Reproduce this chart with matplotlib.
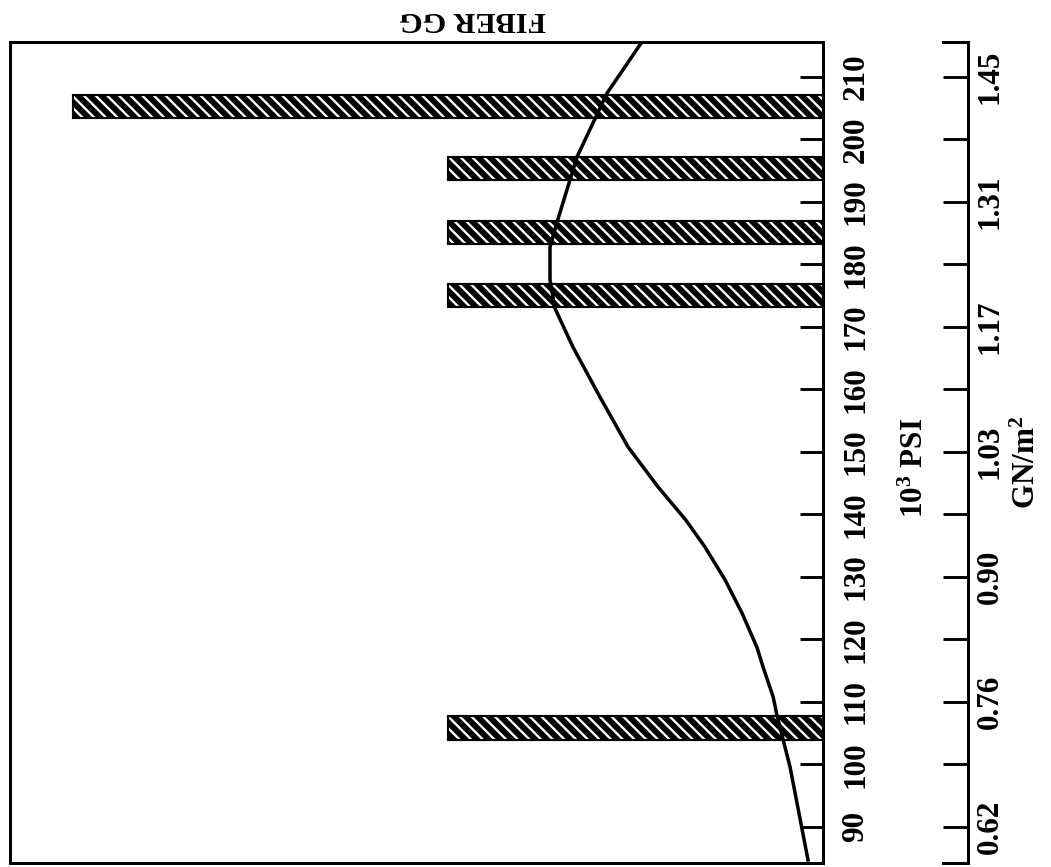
import matplotlib.pyplot as plt

# strength histogram (turned on its side), 10^3 PSI on the vertical axis
psi_ticks = list(range(90, 220, 10))
gn_ticks = list(range(90, 220, 20))
gn_labels = ['0.62', '0.76', '0.90', '1.03', '1.17', '1.31', '1.45']
gn_minor = list(range(100, 210, 20))

bar_centers = [105.8, 175.0, 185.1, 195.4, 205.3]
bar_counts = [1, 1, 1, 1, 2]

# fitted distribution curve
curve_psi = [84.7, 99.6, 107.9, 110.8, 115.6, 118.7, 124.2, 129.5, 134.8,
             139.1, 144.4, 150.8, 158.8, 166.8, 173.0, 177.5, 182.8, 186.8,
             197.2, 207.4, 215.6]
curve_freq = [0.040, 0.088, 0.123, 0.133, 0.160, 0.176, 0.216, 0.261, 0.315,
              0.366, 0.440, 0.520, 0.595, 0.667, 0.715, 0.728, 0.728, 0.709,
              0.656, 0.576, 0.483]

DPI = 70
W, H = 1051, 867
plt.rcParams['font.family'] = ['Liberation Serif', 'DejaVu Serif']
plt.rcParams['font.weight'] = 'bold'
plt.rcParams['mathtext.fontset'] = 'custom'
plt.rcParams['mathtext.rm'] = 'Liberation Serif:bold'
plt.rcParams['hatch.linewidth'] = 2.4

fig = plt.figure(figsize=(W / DPI, H / DPI), dpi=DPI)

ax = fig.add_axes([10 / W, 4 / H, 813 / W, 821 / H])
ax.set_ylim(84.2, 215.6)
ax.set_xlim(2.168, 0)

# black bars with white slanted stripes
ax.barh(bar_centers, bar_counts, height=3.7, color='black', edgecolor='white',
        hatch='\\\\', linewidth=0)
ax.barh(bar_centers, bar_counts, height=3.7, fill=False, edgecolor='black',
        linewidth=2.2)
ax.plot(curve_freq, curve_psi, color='black', lw=3.6,
        solid_joinstyle='round')

for s in ax.spines.values():
    s.set_linewidth(3.1)
ax.set_xticks([])
ax.yaxis.tick_right()
ax.set_yticks(psi_ticks)
ax.tick_params(axis='y', direction='in', length=24, width=3, pad=19,
               labelsize=32, labelrotation=90)
for lbl in ax.get_yticklabels():
    lbl.set_va('center')

# second scale in GN/m^2
ax2 = fig.add_axes([943 / W, 4 / H, 25 / W, 821 / H])
ax2.set_ylim(84.2, 215.6)
ax2.spines['left'].set_visible(False)
for s in ax2.spines.values():
    s.set_linewidth(3.1)
ax2.set_xticks([])
ax2.yaxis.tick_right()
ax2.set_yticks(gn_ticks)
ax2.set_yticklabels(gn_labels)
ax2.set_yticks(gn_minor, minor=True)
ax2.tick_params(axis='y', which='both', direction='in', length=26, width=3,
                pad=8, labelsize=32, labelrotation=90)
for lbl in ax2.get_yticklabels():
    lbl.set_va('center')

fig.text(915 / W, 1 - 468 / H, r'$\mathrm{10^3}$ PSI', rotation=90,
         ha='center', va='center', fontsize=32)
fig.text(1027 / W, 1 - 462 / H, r'GN/m$\mathrm{^2}$', rotation=90,
         ha='center', va='center', fontsize=32)
fig.text(473 / W, 1 - 20 / H, 'FIBER GG', rotation=180,
         ha='center', va='center', fontsize=31)

fig.savefig('out.png', dpi=DPI)
